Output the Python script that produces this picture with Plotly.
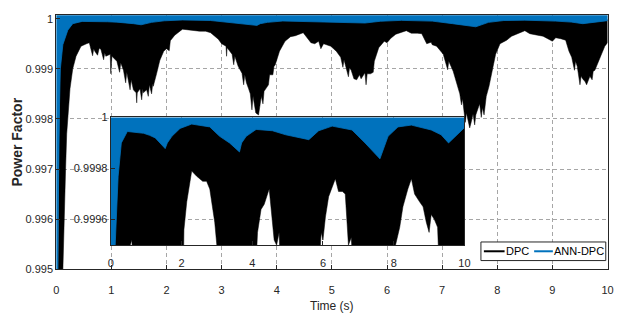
import plotly.graph_objects as go

# ---------------- data ----------------
# DPC (black): lower envelope of the fast oscillation (with its spikes)
t_dpc_low = [0.00, 0.14, 0.15, 0.17, 0.19, 0.21, 0.25, 0.30, 0.36, 0.45, 0.50, 0.55, 0.60, 0.62,
             0.66, 0.68, 0.70, 0.75, 0.78, 0.81, 0.86, 0.88, 0.90, 0.98, 0.99, 1.01, 1.10, 1.15,
             1.17, 1.22, 1.26, 1.28, 1.30, 1.34, 1.36, 1.40, 1.45, 1.46, 1.47, 1.52, 1.55, 1.57,
             1.58, 1.64, 1.67, 1.69, 1.73, 1.75, 1.76, 1.82, 1.88, 1.95, 2.00, 2.05, 2.07, 2.15,
             2.29, 2.43, 2.60, 2.71, 2.80, 2.94, 3.00, 3.08, 3.09, 3.10, 3.19, 3.22, 3.24, 3.30,
             3.37, 3.40, 3.42, 3.45, 3.49, 3.52, 3.55, 3.57, 3.58, 3.62, 3.67, 3.70, 3.72, 3.75,
             3.77, 3.79, 3.85, 3.87, 3.93, 3.95, 3.97, 4.05, 4.15, 4.25, 4.34, 4.48, 4.53, 4.57,
             4.62, 4.69, 4.76, 4.80, 4.85, 4.98, 5.08, 5.16, 5.20, 5.22, 5.25, 5.30, 5.32, 5.35,
             5.40, 5.45, 5.50, 5.53, 5.60, 5.62, 5.64, 5.70, 5.75, 5.77, 5.85, 5.95, 6.00, 6.07,
             6.16, 6.26, 6.35, 6.44, 6.55, 6.63, 6.68, 6.72, 6.80, 6.82, 6.90, 7.02, 7.10, 7.12,
             7.20, 7.26, 7.32, 7.35, 7.37, 7.42, 7.44, 7.50, 7.53, 7.56, 7.59, 7.61, 7.68, 7.71,
             7.73, 7.76, 7.80, 7.85, 7.90, 7.97, 8.05, 8.17, 8.26, 8.40, 8.50, 8.59, 8.73, 8.83,
             8.92, 9.00, 9.06, 9.15, 9.24, 9.30, 9.35, 9.40, 9.42, 9.45, 9.50, 9.52, 9.56, 9.59,
             9.62, 9.68, 9.72, 9.74, 9.77, 9.83, 9.89, 9.95, 10.00]
dpc_low = [0.99000, 0.99500, 0.99600, 0.99700, 0.99770, 0.99810, 0.99860, 0.99900, 0.99925, 0.99945,
           0.99948, 0.99950, 0.99952, 0.99942, 0.99926, 0.99940, 0.99935, 0.99927, 0.99941, 0.99939,
           0.99918, 0.99932, 0.99925, 0.99929, 0.99890, 0.99925, 0.99915, 0.99893, 0.99912, 0.99897,
           0.99872, 0.99893, 0.99880, 0.99858, 0.99878, 0.99858, 0.99852, 0.99832, 0.99852, 0.99860,
           0.99838, 0.99860, 0.99852, 0.99858, 0.99845, 0.99868, 0.99850, 0.99870, 0.99865, 0.99890,
           0.99917, 0.99935, 0.99940, 0.99936, 0.99956, 0.99967, 0.99979, 0.99977, 0.99975, 0.99975,
           0.99972, 0.99959, 0.99950, 0.99945, 0.99925, 0.99942, 0.99929, 0.99908, 0.99925, 0.99905,
           0.99891, 0.99868, 0.99888, 0.99872, 0.99860, 0.99850, 0.99818, 0.99845, 0.99833, 0.99812,
           0.99808, 0.99830, 0.99845, 0.99830, 0.99855, 0.99858, 0.99868, 0.99888, 0.99888, 0.99905,
           0.99907, 0.99935, 0.99955, 0.99964, 0.99966, 0.99972, 0.99966, 0.99959, 0.99952, 0.99950,
           0.99955, 0.99940, 0.99950, 0.99945, 0.99935, 0.99923, 0.99903, 0.99918, 0.99905, 0.99884,
           0.99902, 0.99897, 0.99880, 0.99878, 0.99888, 0.99880, 0.99892, 0.99868, 0.99890, 0.99890,
           0.99893, 0.99915, 0.99942, 0.99955, 0.99952, 0.99961, 0.99969, 0.99973, 0.99976, 0.99971,
           0.99971, 0.99970, 0.99959, 0.99950, 0.99953, 0.99948, 0.99945, 0.99929, 0.99898, 0.99915,
           0.99895, 0.99872, 0.99850, 0.99828, 0.99840, 0.99793, 0.99812, 0.99782, 0.99795, 0.99810,
           0.99788, 0.99808, 0.99830, 0.99803, 0.99822, 0.99808, 0.99845, 0.99865, 0.99890, 0.99929,
           0.99950, 0.99957, 0.99965, 0.99972, 0.99976, 0.99970, 0.99967, 0.99965, 0.99959, 0.99955,
           0.99962, 0.99960, 0.99957, 0.99935, 0.99923, 0.99897, 0.99915, 0.99905, 0.99868, 0.99885,
           0.99878, 0.99875, 0.99868, 0.99885, 0.99878, 0.99895, 0.99897, 0.99915, 0.99929, 0.99945,
           0.99952]
# DPC (black): upper envelope (mostly hidden under the blue band)
t_dpc_high = [0.00, 0.04, 0.06, 0.12, 0.20, 10.00]
dpc_high = [0.99000, 0.99700, 0.99900, 0.99985, 0.99998, 0.99998]

# ANN-DPC (blue): lower envelope and upper edge
t_ann_low = [0.00, 0.04, 0.05, 0.06, 0.075, 0.12, 0.21, 0.30, 0.47, 0.93, 1.10, 1.26, 1.40, 1.54,
             1.60, 1.73, 1.96, 2.29, 2.80, 3.08, 3.36, 3.64, 3.70, 3.83, 4.11, 4.57, 4.95, 5.32,
             5.60, 5.88, 6.26, 6.82, 7.19, 7.61, 7.84, 8.12, 8.50, 9.06, 9.34, 9.55, 9.62, 10.00]
ann_low = [0.99000, 0.99650, 0.99750, 0.99830, 0.99900, 0.99948, 0.99977, 0.99990, 0.999945,
           0.999938, 0.99993, 0.99992, 0.99990, 0.999878, 0.99990, 0.999926, 0.999957, 0.999974,
           0.999963, 0.999926, 0.99990, 0.999865, 0.99990, 0.999926, 0.999953, 0.999948, 0.999932,
           0.99992, 0.999913, 0.999948, 0.999966, 0.999951, 0.99990, 0.999838, 0.999926, 0.999963,
           0.99997, 0.999951, 0.999932, 0.99990, 0.99991, 0.99996]
t_ann_high = [0.00, 10.00]
ann_high = [1.0001, 1.0001]

series_names = ["DPC", "ANN-DPC"]
main_xticks = [0, 1, 2, 3, 4, 5, 6, 7, 8, 9, 10]
main_yticks = [0.995, 0.996, 0.997, 0.998, 0.999, 1.0]
main_yticktext = ["0.995", "0.996", "0.997", "0.998", "0.999", "1"]
inset_xticks = [0, 2, 4, 6, 8, 10]
inset_yticks = [0.9996, 0.9998, 1.0]
inset_yticktext = ["0.9996", "0.9998", "1"]

BLACK = "#000000"
BLUE = "#0072BD"
AX = "#262626"
GRID = "#a6a6a6"
FONT = "Liberation Sans, Arial, sans-serif"

def band(tx_hi, y_hi, tx_lo, y_lo):
    return list(tx_hi) + list(tx_lo)[::-1], list(y_hi) + list(y_lo)[::-1]

fig = go.Figure()
for xa, ya in (("x", "y"), ("x2", "y2")):
    bx, by = band(t_dpc_high, dpc_high, t_dpc_low, dpc_low)
    fig.add_trace(go.Scatter(x=bx, y=by, xaxis=xa, yaxis=ya, mode="lines", fill="toself",
                             fillcolor=BLACK, line=dict(color=BLACK, width=0.5),
                             name=series_names[0], showlegend=False, hoverinfo="skip"))
    bx, by = band(t_ann_high, ann_high, t_ann_low, ann_low)
    fig.add_trace(go.Scatter(x=bx, y=by, xaxis=xa, yaxis=ya, mode="lines", fill="toself",
                             fillcolor=BLUE, line=dict(color=BLUE, width=0.8),
                             name=series_names[1], showlegend=False, hoverinfo="skip"))

W, H = 617, 326
def px_x(p): return p / W
def px_y(p): return 1 - p / H

axis_common = dict(showline=True, linecolor=AX, linewidth=1, mirror=True,
                   showgrid=True, gridcolor=GRID, griddash="4px,3px", gridwidth=1,
                   zeroline=False, ticks="inside", ticklen=4, tickcolor=AX,
                   tickfont=dict(family=FONT, size=11, color=AX))

# compact MATLAB-style legend box (bottom right)
leg_l, leg_r, leg_t, leg_b = 485, 611.7, 245, 264.3
leg_mid = (leg_t + leg_b) / 2
shapes = [
    dict(type="rect", xref="paper", yref="paper", x0=px_x(leg_l), x1=px_x(leg_r),
         y0=px_y(leg_b), y1=px_y(leg_t), fillcolor="white", line=dict(color=AX, width=1),
         layer="above"),
    dict(type="line", xref="paper", yref="paper", x0=px_x(488), x1=px_x(509),
         y0=px_y(leg_mid), y1=px_y(leg_mid), line=dict(color=BLACK, width=2), layer="above"),
    dict(type="line", xref="paper", yref="paper", x0=px_x(539), x1=px_x(558),
         y0=px_y(leg_mid), y1=px_y(leg_mid), line=dict(color=BLUE, width=2), layer="above"),
]

annotations = [
    dict(text="Time (s)", x=px_x(334), y=px_y(311), xref="paper", yref="paper",
         xanchor="center", yanchor="middle", showarrow=False,
         font=dict(family=FONT, size=12, color=AX)),
    dict(text="<b>Power Factor</b>", x=px_x(14), y=px_y(141), xref="paper", yref="paper",
         xanchor="center", yanchor="middle", showarrow=False, textangle=-90,
         font=dict(family=FONT, size=14, color=AX)),
    dict(text=series_names[0], x=px_x(509), y=px_y(leg_mid), xref="paper", yref="paper",
         xanchor="left", yanchor="middle", showarrow=False, borderpad=0,
         font=dict(family=FONT, size=11, color=BLACK)),
    dict(text=series_names[1], x=px_x(558), y=px_y(leg_mid), xref="paper", yref="paper",
         xanchor="left", yanchor="middle", showarrow=False, borderpad=0,
         font=dict(family=FONT, size=11, color=BLACK)),
]

fig.update_layout(
    width=W, height=H, margin=dict(l=0, r=0, t=0, b=0),
    paper_bgcolor="white", plot_bgcolor="white", showlegend=False,
    xaxis=dict(domain=[px_x(54), px_x(613.5)], range=[0, 10], tickvals=main_xticks,
               anchor="y", ticklabelstandoff=11, **axis_common),
    yaxis=dict(domain=[px_y(273.3), px_y(9.5)], range=[0.995, 1.00007],
               tickvals=main_yticks, ticktext=main_yticktext, anchor="x", **axis_common),
    xaxis2=dict(domain=[px_x(109.3), px_x(468.3)], range=[0, 10], tickvals=inset_xticks,
                anchor="y2", ticklabelstandoff=8, **axis_common),
    yaxis2=dict(domain=[px_y(248.3), px_y(115.7)], range=[0.9995, 1.0],
                tickvals=inset_yticks, ticktext=inset_yticktext, anchor="x2", **axis_common),
    shapes=shapes,
    annotations=annotations,
)

fig.write_html("out.html")
